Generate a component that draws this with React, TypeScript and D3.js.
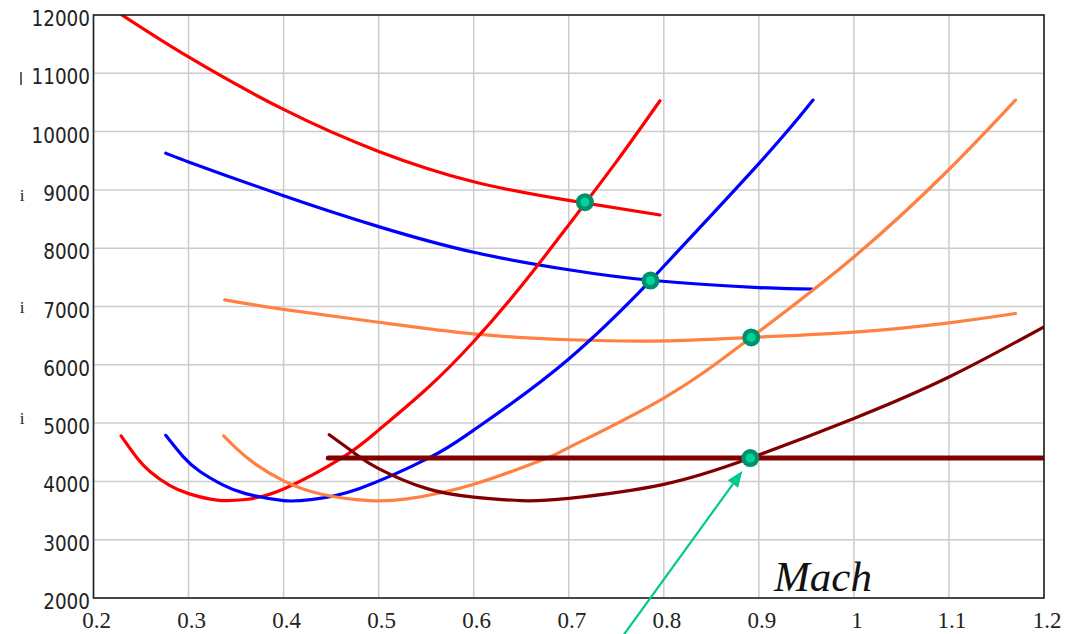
import React from 'react';
import * as d3 from 'd3';

// ---- axis ticks ----
const machTicks = [0.2, 0.3, 0.4, 0.5, 0.6, 0.7, 0.8, 0.9, 1.0, 1.1, 1.2];
const machTickLabels = ['0.2', '0.3', '0.4', '0.5', '0.6', '0.7', '0.8', '0.9', '1', '1.1', '1.2'];
const thrustTicks = [2000, 3000, 4000, 5000, 6000, 7000, 8000, 9000, 10000, 11000, 12000];
const thrustTickLabels = ['2000', '3000', '4000', '5000', '6000', '7000', '8000', '9000', '10000', '11000', '12000'];

// ---- series ----
const redUMach = [0.229, 0.245, 0.26, 0.28, 0.3, 0.33, 0.36, 0.4, 0.463, 0.5, 0.55, 0.6, 0.65, 0.7, 0.75, 0.796];
const redUThrust = [4780, 4420, 4160, 3930, 3790, 3680, 3690, 3870, 4420, 4880, 5580, 6400, 7350, 8400, 9480, 10530];
const redDMach = [0.229, 0.3, 0.4, 0.5, 0.6, 0.7, 0.796];
const redDThrust = [12010, 11280, 10380, 9660, 9140, 8820, 8570];

const blueUMach = [0.276, 0.294, 0.312, 0.336, 0.36, 0.4, 0.43, 0.48, 0.555, 0.6, 0.7, 0.786, 0.8, 0.9, 0.957];
const blueUThrust = [4790, 4430, 4170, 3940, 3790, 3670, 3690, 3880, 4420, 4880, 6100, 7445, 7690, 9450, 10540];
const blueDMach = [0.276, 0.3, 0.4, 0.5, 0.6, 0.7, 0.786, 0.9, 0.956];
const blueDThrust = [9630, 9480, 8900, 8370, 7930, 7630, 7450, 7325, 7300];

const orangeUMach = [0.337, 0.35, 0.37, 0.4, 0.44, 0.49, 0.53, 0.6, 0.677, 0.7, 0.8, 0.892, 1.0, 1.1, 1.17];
const orangeUThrust = [4780, 4570, 4300, 4010, 3780, 3670, 3700, 3950, 4400, 4580, 5430, 6470, 7850, 9350, 10540];
const orangeDMach = [0.338, 0.4, 0.5, 0.6, 0.7, 0.8, 0.892, 1.0, 1.1, 1.17];
const orangeDThrust = [7115, 6950, 6730, 6530, 6430, 6410, 6470, 6560, 6720, 6880];

const darkUMach = [0.448, 0.475, 0.5, 0.55, 0.6, 0.65, 0.7, 0.8, 0.891, 1.0, 1.1, 1.2];
const darkUThrust = [4800, 4480, 4220, 3880, 3730, 3670, 3710, 3950, 4400, 5080, 5790, 6650];
const darkHMach = [0.447, 1.2];
const darkHThrust = [4400, 4400];

const markerMach = [0.717, 0.786, 0.892, 0.891];
const markerThrust = [8790, 7445, 6470, 4400];

const W = 1066;
const H = 634;

export default function App() {
  const x = d3.scaleLinear().domain([0.2, 1.2]).range([93.5, 1044]);
  const y = d3.scaleLinear().domain([2000, 12000]).range([598, 15]);

  const line = d3
    .line<[number, number]>()
    .x((d) => x(d[0]))
    .y((d) => y(d[1]))
    .curve(d3.curveNatural);

  const zip = (a: number[], b: number[]): [number, number][] => a.map((v, i) => [v, b[i]]);

  const series = [
    { m: redDMach, t: redDThrust, c: '#ff0000', w: 3.2 },
    { m: blueDMach, t: blueDThrust, c: '#0000ff', w: 3.2 },
    { m: orangeDMach, t: orangeDThrust, c: '#ff8040', w: 3.2 },
    { m: redUMach, t: redUThrust, c: '#ff0000', w: 3.2 },
    { m: blueUMach, t: blueUThrust, c: '#0000ff', w: 3.2 },
    { m: orangeUMach, t: orangeUThrust, c: '#ff8040', w: 3.2 },
    { m: darkUMach, t: darkUThrust, c: '#800000', w: 3.2 },
    { m: darkHMach, t: darkHThrust, c: '#800000', w: 5 },
  ];

  const [x0, x1] = x.range();
  const [yb, yt] = y.range();

  // arrow pointing to the lowest marker
  const mx = x(markerMach[3]);
  const my = y(markerThrust[3]);
  const tipX = mx - 8;
  const tipY = my + 13;
  const startX = tipX - 126;
  const startY = tipY + 174;
  const len = Math.hypot(tipX - startX, tipY - startY);
  const ux = (tipX - startX) / len;
  const uy = (tipY - startY) / len;
  const headL = 16;
  const headW = 6.5;
  const bx = tipX - ux * headL;
  const by = tipY - uy * headL;
  const head = `${tipX},${tipY} ${bx - uy * headW},${by + ux * headW} ${bx + uy * headW},${by - ux * headW}`;

  return (
    <svg
      width={W}
      height={H}
      style={{ position: 'absolute', left: 0, top: 0, background: '#fff' }}
    >
      <defs>
        <clipPath id="plotClip">
          <rect x={x0} y={yt} width={x1 - x0} height={yb - yt} />
        </clipPath>
      </defs>
      <rect x={0} y={0} width={W} height={H} fill="#fff" />

      {/* grid */}
      <g stroke="#cccccc" strokeWidth={1.5}>
        {machTicks.map((m) => (
          <line key={'gx' + m} x1={x(m)} x2={x(m)} y1={yt} y2={yb} />
        ))}
        {thrustTicks.map((t) => (
          <line key={'gy' + t} x1={x0} x2={x1} y1={y(t)} y2={y(t)} />
        ))}
      </g>

      {/* curves */}
      <g clipPath="url(#plotClip)" fill="none" strokeLinecap="round">
        {series.map((s, i) => (
          <path key={i} d={line(zip(s.m, s.t)) || ''} stroke={s.c} strokeWidth={s.w} />
        ))}
      </g>

      {/* frame */}
      <rect x={x0} y={yt} width={x1 - x0} height={yb - yt} fill="none" stroke="#222" strokeWidth={1.6} />

      {/* markers */}
      {markerMach.map((m, i) => (
        <g key={'mk' + i}>
          <circle cx={x(m)} cy={y(markerThrust[i])} r={9} fill="#00916b" />
          <circle cx={x(m)} cy={y(markerThrust[i])} r={4.5} fill="#00d39c" />
        </g>
      ))}

      {/* arrow */}
      <line x1={startX} y1={startY} x2={bx} y2={by} stroke="#00c890" strokeWidth={2.2} />
      <polygon points={head} fill="#00c890" />

      {/* y tick labels */}
      <g fontFamily="'DejaVu Sans', sans-serif" fontSize={21} fill="#222" textAnchor="end">
        {thrustTicks.map((t, i) => (
          <text
            key={'ty' + t}
            x={90}
            y={y(t) + 11}
            textLength={thrustTickLabels[i].length * 11.7}
            lengthAdjust="spacingAndGlyphs"
          >
            {thrustTickLabels[i]}
          </text>
        ))}
      </g>

      {/* x tick labels */}
      <g fontFamily="'Liberation Serif', 'Times New Roman', serif" fontSize={23} fill="#222" textAnchor="middle">
        {machTicks.map((m, i) => (
          <text key={'tx' + m} x={x(m) + 3} y={628}>
            {machTickLabels[i]}
          </text>
        ))}
      </g>

      {/* x axis title */}
      <text
        x={774}
        y={591}
        fontFamily="'Liberation Serif', 'Times New Roman', serif"
        fontStyle="italic"
        fontSize={43}
        fill="#111"
      >
        Mach
      </text>

      {/* cut-off left-side label fragments */}
      <g fontFamily="'Liberation Serif', serif" fontSize={17} fill="#222" textAnchor="middle">
        <text x={22} y={201}>i</text>
        <text x={22} y={313}>i</text>
        <text x={22} y={424}>i</text>
      </g>
      <line x1={21} x2={21} y1={72} y2={85} stroke="#666" strokeWidth={2} />
    </svg>
  );
}
